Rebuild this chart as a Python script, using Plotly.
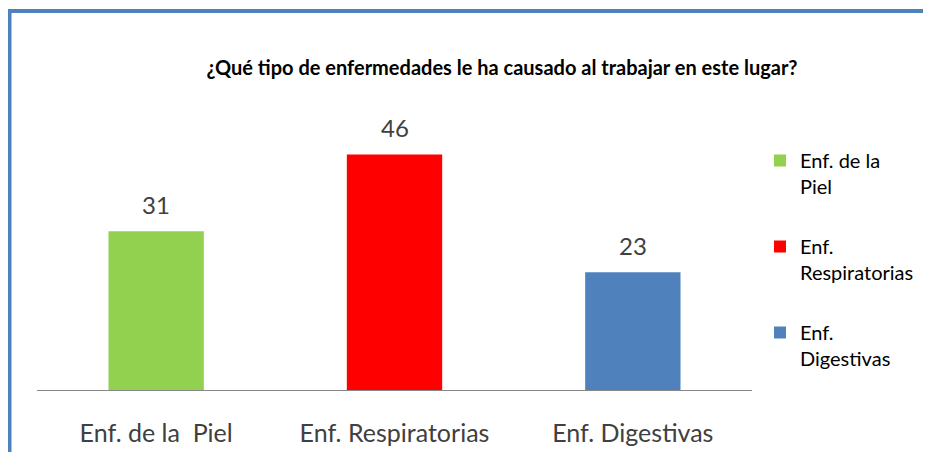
import plotly.graph_objects as go

title = "¿Qué tipo de enfermedades le ha causado al trabajar en este lugar?"
categories = ["Enf. de la  Piel", "Enf. Respiratorias", "Enf. Digestivas"]
values = [31, 46, 23]
legend_names = ["Enf. de la<br>Piel", "Enf.<br>Respiratorias", "Enf.<br>Digestivas"]
colors = ["#92D050", "#FF0000", "#4F81BD"]

FONT = "Lato"
OFF = 8  # page body margin
W, H = 931, 452
L, R, T, B = 29, 187, 126, 70
pw, ph = W - L - R, H - T - B

fig = go.Figure()
for cat, val, name, col in zip(categories, values, legend_names, colors):
    fig.add_trace(go.Bar(
        x=[cat], y=[val], name=name, legendgroup=name,
        marker=dict(color=col, line=dict(width=0)), width=0.4,
    ))
    fig.add_annotation(
        x=cat, y=val, text=str(val), showarrow=False, yanchor="bottom",
        yshift=10, font=dict(family=FONT, size=24, color="#404040"),
    )

def px_x(p):
    return (p - OFF - L) / pw

def px_y(p):
    return (H - B - (p - OFF)) / ph

frame_col = "#4F81BD"
fig.add_shape(type="line", xref="paper", yref="paper",
              x0=px_x(9.5), x1=px_x(960), y0=px_y(11), y1=px_y(11),
              line=dict(color=frame_col, width=4))
fig.add_shape(type="line", xref="paper", yref="paper",
              x0=px_x(9.5), x1=px_x(9.5), y0=px_y(9), y1=px_y(480),
              line=dict(color=frame_col, width=4))

fig.update_layout(
    width=W, height=H,
    margin=dict(l=L, r=R, t=T, b=B),
    paper_bgcolor="white", plot_bgcolor="white",
    barmode="overlay",
    title=dict(text="<b>" + title + "</b>", x=(502 - OFF) / W, xanchor="center",
               y=1 - (68 - OFF) / H, yanchor="middle", yref="container",
               font=dict(family=FONT, size=20, color="black")),
    xaxis=dict(showline=True, linecolor="#868686", linewidth=1,
               showgrid=False, ticks="", ticklabelstandoff=21,
               tickfont=dict(family=FONT, size=25, color="#404040"),
               range=[-0.5, 2.5]),
    yaxis=dict(visible=False, range=[0, 50]),
    legend=dict(x=px_x(760), xanchor="left", y=px_y(141), yanchor="top",
                tracegroupgap=31, valign="top",
                font=dict(family=FONT, size=20, color="black")),
    showlegend=True,
)

fig.write_html("out.html")
